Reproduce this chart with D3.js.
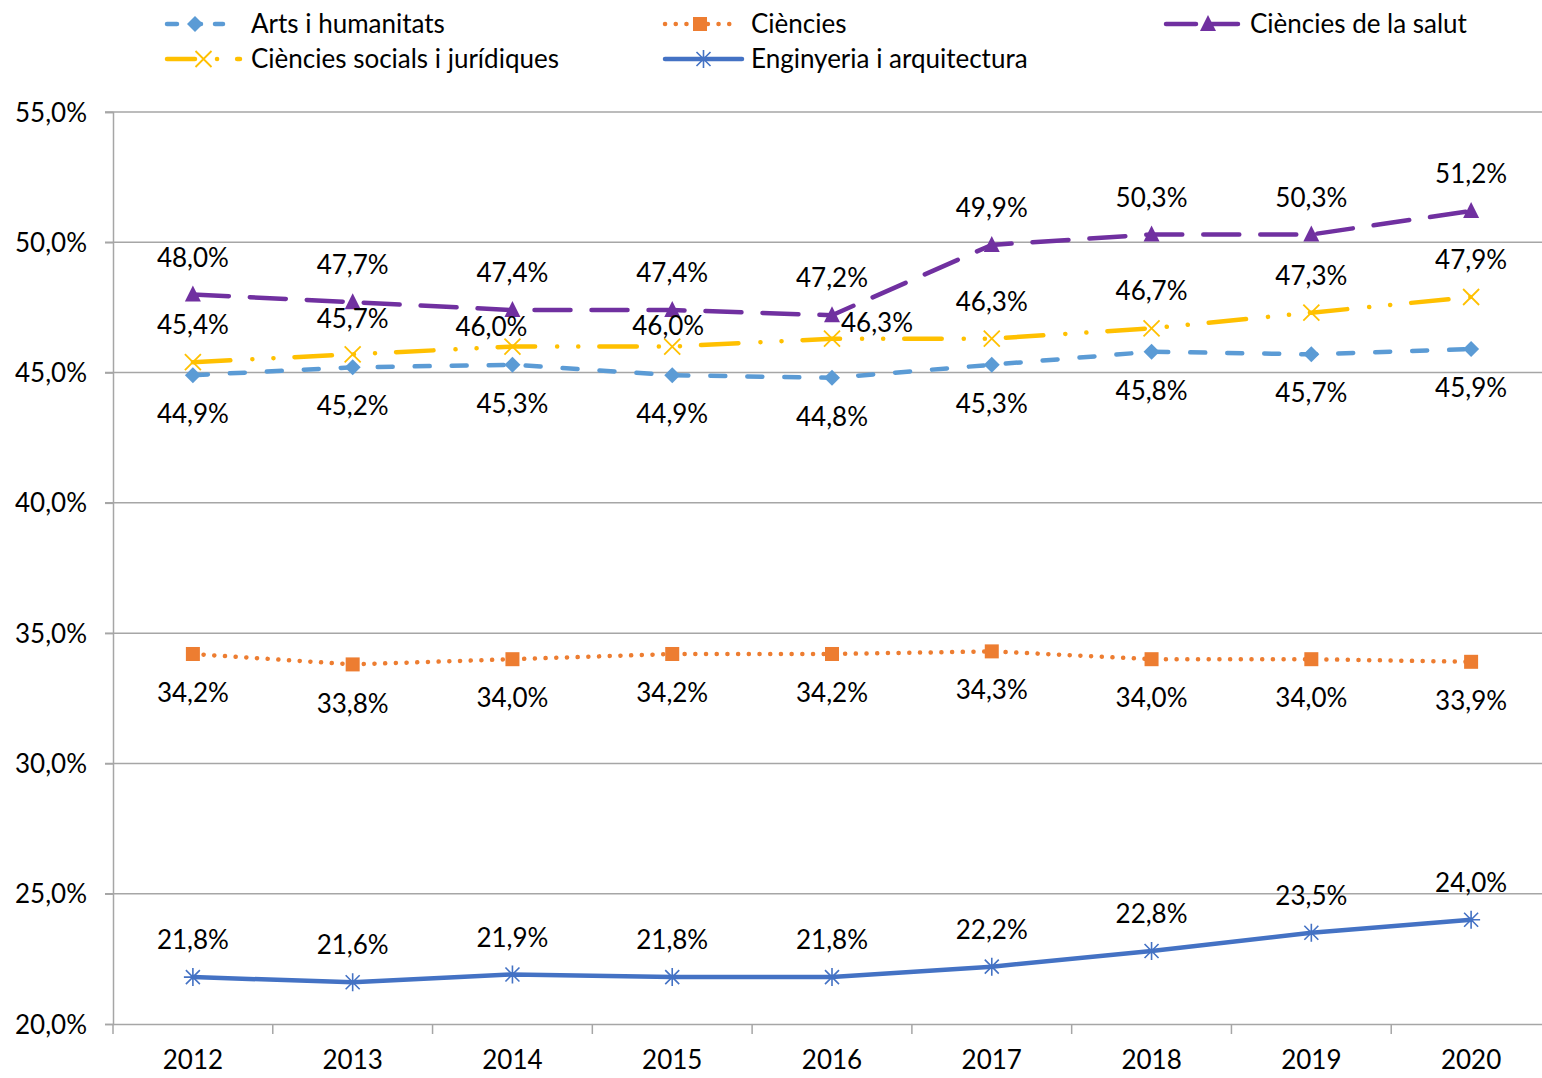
<!DOCTYPE html>
<html><head><meta charset="utf-8">
<script src="https://cdn.jsdelivr.net/npm/d3@7"></script>
<style>body{margin:0;background:#fff;overflow:hidden}svg{display:block}text{font-family:Lato,"Open Sans",sans-serif;fill:#000}</style>
</head><body><svg id="c" width="1542" height="1078"></svg>
<script>
const years = ["2012","2013","2014","2015","2016","2017","2018","2019","2020"];
const arts = [44.9,45.2,45.3,44.9,44.8,45.3,45.8,45.7,45.9];
const ciencies = [34.2,33.8,34.0,34.2,34.2,34.3,34.0,34.0,33.9];
const salut = [48.0,47.7,47.4,47.4,47.2,49.9,50.3,50.3,51.2];
const socials = [45.4,45.7,46.0,46.0,46.3,46.3,46.7,47.3,47.9];
const enginyeria = [21.8,21.6,21.9,21.8,21.8,22.2,22.8,23.5,24.0];
const yTicks = [20,25,30,35,40,45,50,55];
const seriesNames = ["Arts i humanitats","Ciències","Ciències de la salut","Ciències socials i jurídiques","Enginyeria i arquitectura"];

const FS = 26;
const series = [
  {name:seriesNames[0], values:arts, color:"#5B9BD5", dash:"15,22", marker:"diamond", label:"below"},
  {name:seriesNames[1], values:ciencies, color:"#ED7D31", dash:"0.1,10.6", marker:"square", label:"below"},
  {name:seriesNames[2], values:salut, color:"#7030A0", dash:"36,21", marker:"triangle", label:"above"},
  {name:seriesNames[3], values:socials, color:"#FFC000", dash:"37.5,22,0.1,21,0.1,21", marker:"x", label:"above"},
  {name:seriesNames[4], values:enginyeria, color:"#4472C4", dash:null, marker:"star", label:"above"}
];
// label nudges for overlapping socials labels (dx, dy in px)
const socialsNudge = [[0,0],[0,2],[-21,17],[-4,16],[45,21],[0,0],[0,0],[0,0],[0,0]];

const svg = d3.select("#c");
const L=113, R=1551, T=112, B=1024;
const x = d3.scaleBand().domain(years).range([L,R]);
const y = d3.scaleLinear().domain([20,55]).range([B,T]);
const fmt = v => d3.format(".1f")(v).replace(".",",")+"%";

// gridlines
svg.append("g").selectAll("line").data(yTicks.filter(d=>d>20)).join("line")
  .attr("x1",L-8).attr("x2",R).attr("y1",d=>y(d)).attr("y2",d=>y(d))
  .attr("stroke","#A6A6A6").attr("stroke-width",1.5);
// axes
const yAxis = svg.append("g").attr("transform",`translate(${L},0)`)
  .call(d3.axisLeft(y).tickValues(yTicks).tickSize(8).tickPadding(18).tickFormat(fmt));
yAxis.select(".domain").attr("stroke","#A6A6A6").attr("stroke-width",1.5);
yAxis.selectAll(".tick line").attr("stroke","#A6A6A6").attr("stroke-width",1.5);
yAxis.selectAll("text").attr("font-size",FS).attr("font-family","Lato").attr("fill","#000").attr("dy","0.35em");

const xAxis = svg.append("g").attr("transform",`translate(0,${B})`).call(d3.axisBottom(x).tickSize(0).tickPadding(27));
xAxis.select(".domain").attr("stroke","#A6A6A6").attr("stroke-width",1.5);
xAxis.selectAll("text").attr("font-size",FS).attr("font-family","Lato").attr("fill","#000");
// category boundary ticks
const bounds = years.map(d=>x(d)).concat([R]);
svg.append("g").selectAll("line").data(bounds).join("line")
  .attr("x1",d=>d).attr("x2",d=>d).attr("y1",B).attr("y2",B+10)
  .attr("stroke","#A6A6A6").attr("stroke-width",1.5);

const cx = d => x(d)+x.bandwidth()/2;

function marker(g, type, color, px, py){
  if(type==="diamond"){
    g.append("path").attr("d",`M${px},${py-8}L${px+8},${py}L${px},${py+8}L${px-8},${py}Z`).attr("fill",color);
  } else if(type==="square"){
    g.append("rect").attr("x",px-7).attr("y",py-7).attr("width",14).attr("height",14).attr("fill",color);
  } else if(type==="triangle"){
    g.append("path").attr("d",`M${px},${py-9}L${px+8},${py+7}L${px-8},${py+7}Z`).attr("fill",color);
  } else if(type==="x"){
    g.append("path").attr("d",`M${px-8},${py-8}L${px+8},${py+8}M${px+8},${py-8}L${px-8},${py+8}`).attr("stroke",color).attr("stroke-width",1.8).attr("fill","none");
  } else if(type==="star"){
    g.append("path").attr("d",`M${px-7},${py-7}L${px+7},${py+7}M${px+7},${py-7}L${px-7},${py+7}M${px},${py-9}L${px},${py+9}M${px-9},${py}L${px+9},${py}`).attr("stroke",color).attr("stroke-width",1.6).attr("fill","none");
  }
}

const line = d3.line().x((d,i)=>cx(years[i])).y(d=>y(d));
series.forEach(s=>{
  const g = svg.append("g");
  g.append("path").datum(s.values).attr("d",line).attr("fill","none")
    .attr("stroke",s.color).attr("stroke-width",4.5)
    .attr("stroke-dasharray",s.dash).attr("stroke-linecap","round");
  s.values.forEach((v,i)=>marker(g,s.marker,s.color,cx(years[i]),y(v)));
});
// data labels
series.forEach(s=>{
  svg.append("g").selectAll("text").data(s.values).join("text")
    .attr("x",(d,i)=>cx(years[i]) + (s.name===seriesNames[3]?socialsNudge[i][0]:0))
    .attr("y",(d,i)=>y(d) + (s.label==="above"?-37:39) + (s.name===seriesNames[3]?socialsNudge[i][1]:0))
    .attr("dy","0.35em").attr("text-anchor","middle").attr("font-size",FS).text(fmt);
});

// legend
const legend = [
  {s:series[0], x1:167, x2:223, tx:251, ty:24, dash:"10,14"},
  {s:series[1], x1:665, x2:735, tx:751, ty:24, dash:"0.1,10.6"},
  {s:series[2], x1:1166, x2:1242, tx:1250, ty:24, dash:"30,12"},
  {s:series[3], x1:167, x2:240, tx:251, ty:59, dash:"28,22,0.1,20"},
  {s:series[4], x1:665, x2:742, tx:751, ty:59, dash:null}
];
legend.forEach(l=>{
  const g = svg.append("g");
  g.append("line").attr("x1",l.x1).attr("x2",l.x2).attr("y1",l.ty).attr("y2",l.ty)
    .attr("stroke",l.s.color).attr("stroke-width",4.5).attr("stroke-linecap","round")
    .attr("stroke-dasharray",l.dash);
  marker(g,l.s.marker,l.s.color,(l.x1+l.x2)/2+ (l.s.marker==="triangle"?4:0),l.ty);
  g.append("text").attr("x",l.tx).attr("y",l.ty).attr("dy","0.35em").attr("font-size",FS).text(l.s.name);
});
</script></body></html>
